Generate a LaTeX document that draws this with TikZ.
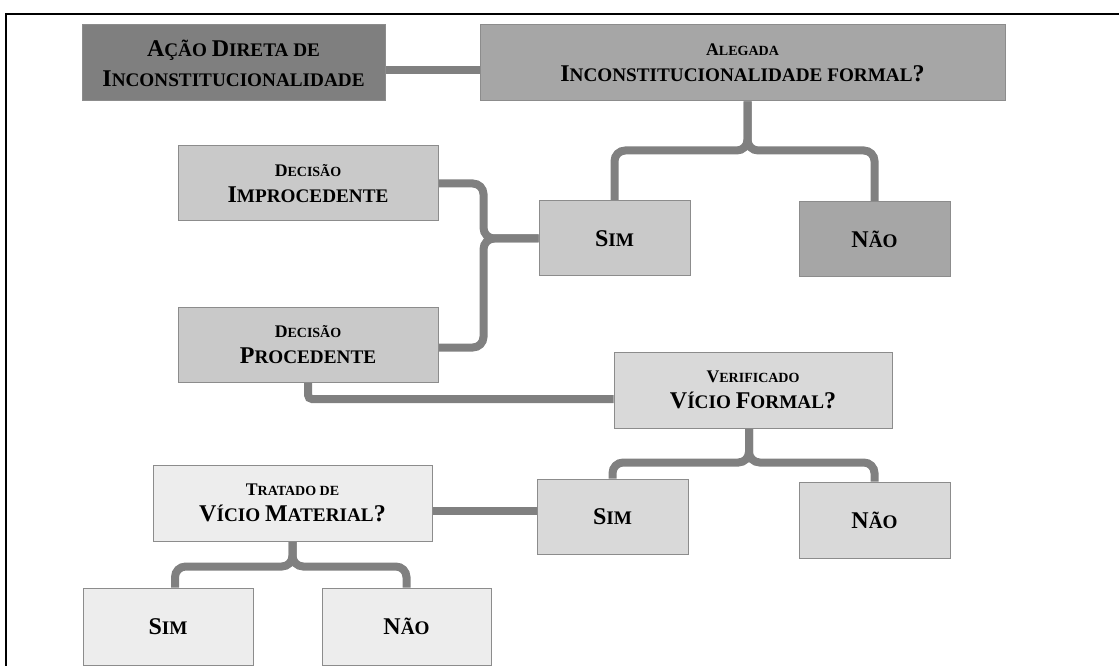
\documentclass[tikz,border=0pt]{standalone}
\usepackage{fontspec}
\setmainfont{Liberation Serif}
\usetikzlibrary{calc,backgrounds}
\definecolor{cA}{HTML}{7F7F7F}
\definecolor{cB}{HTML}{A6A6A6}
\definecolor{cC}{HTML}{C9C9C9}
\definecolor{cD}{HTML}{D9D9D9}
\definecolor{cE}{HTML}{EDEDED}
\definecolor{conn}{HTML}{808080}
\definecolor{edgec}{HTML}{8C8C8C}
\newcommand{\Lg}[1]{{\fontsize{18}{19.5}\selectfont #1}}
\newcommand{\Sg}[1]{{\fontsize{14.4}{19.5}\selectfont #1}}
\newcommand{\Lt}[1]{{\fontsize{13.3}{19.5}\selectfont #1}}
\newcommand{\St}[1]{{\fontsize{10.5}{19.5}\selectfont #1}}
\newcommand{\bx}[7]{\node[bxs, fill=#6, minimum width={(#4-#2)*0.75pt}, minimum height={(#5-#3)*0.75pt}] (#1) at ({(#2+#4)/2},{(#3+#5)/2}) {#7};}
\begin{document}
\begin{tikzpicture}[x=0.75pt,y=-0.75pt,
  bxs/.style={draw=edgec, line width=0.75pt, inner sep=0pt, align=center,
    font=\bfseries\fontsize{14.4}{19.5}\selectfont, text=black},
  cn/.style={draw=conn, line width=6pt, rounded corners=8pt}]
\useasboundingbox (0,0) rectangle (1119,666);
\draw[line width=1.5pt] (6,667) -- (6,14) -- (1120,14);

\bx{adi}{82}{25}{385}{101}{cA}{\Lg{A}\Sg{ÇÃO }\Lg{D}\Sg{IRETA DE}\\[3pt]\Lg{I}\Sg{NCONSTITUCIONALIDADE}}
\bx{aleg}{480}{25}{1005}{101}{cB}{\Lt{A}\St{LEGADA}\\\Lg{I}\Sg{NCONSTITUCIONALIDADE FORMAL}\Lg{?}}
\bx{improc}{178}{146}{438}{221}{cC}{\Lt{D}\St{ECISÃO}\\\Lg{I}\Sg{MPROCEDENTE}}
\bx{sim1}{539}{201}{690}{276}{cC}{\Lg{S}\Sg{IM}}
\bx{nao1}{799}{202}{950}{277}{cB}{\Lg{N}\Sg{ÃO}}
\bx{proc}{178}{307}{438}{382}{cC}{\Lt{D}\St{ECISÃO}\\\Lg{P}\Sg{ROCEDENTE}}
\bx{verif}{614}{352}{892}{428}{cD}{\Lt{V}\St{ERIFICADO}\\\Lg{V}\Sg{ÍCIO }\Lg{F}\Sg{ORMAL}\Lg{?}}
\bx{sim2}{537}{479}{688}{554}{cD}{\Lg{S}\Sg{IM}}
\bx{nao2}{799}{482}{950}{558}{cD}{\Lg{N}\Sg{ÃO}}
\bx{trat}{153}{465}{432}{541}{cE}{\Lt{T}\St{RATADO DE}\\\Lg{V}\Sg{ÍCIO }\Lg{M}\Sg{ATERIAL}\Lg{?}}
\bx{sim3}{83}{588}{253}{665}{cE}{\Lg{S}\Sg{IM}}
\bx{nao3}{322}{588}{491}{665}{cE}{\Lg{N}\Sg{ÃO}}

\begin{scope}[on background layer]
\draw[cn] ($(adi.east)+(0,7)$) -- ($(aleg.west)+(0,7)$);
\draw[cn] ($(aleg.south)+(5,0)$) -- ++(0,49) -| (sim1.north);
\draw[cn] ($(aleg.south)+(5,0)$) -- ++(0,49) -| (nao1.north);
\draw[cn] (improc.east) -- ++(45,0) |- (sim1.west);
\draw[cn] ($(proc.east)+(0,3)$) -- ++(45,0) |- (sim1.west);
\draw[cn, rounded corners=3pt] (proc.south) |- ($(verif.west)+(0,9)$);
\draw[cn] ($(verif.south)+(-4,0)$) -- ++(0,34) -| (sim2.north);
\draw[cn] ($(verif.south)+(-4,0)$) -- ++(0,34) -| (nao2.north);
\draw[cn] ($(trat.east)+(0,8)$) -- ($(sim2.west)+(0,-5.5)$);
\draw[cn] (trat.south) -- ++(0,25) -| ($(sim3.north)+(7,0)$);
\draw[cn] (trat.south) -- ++(0,25) -| (nao3.north);
\end{scope}
\end{tikzpicture}
\end{document}
